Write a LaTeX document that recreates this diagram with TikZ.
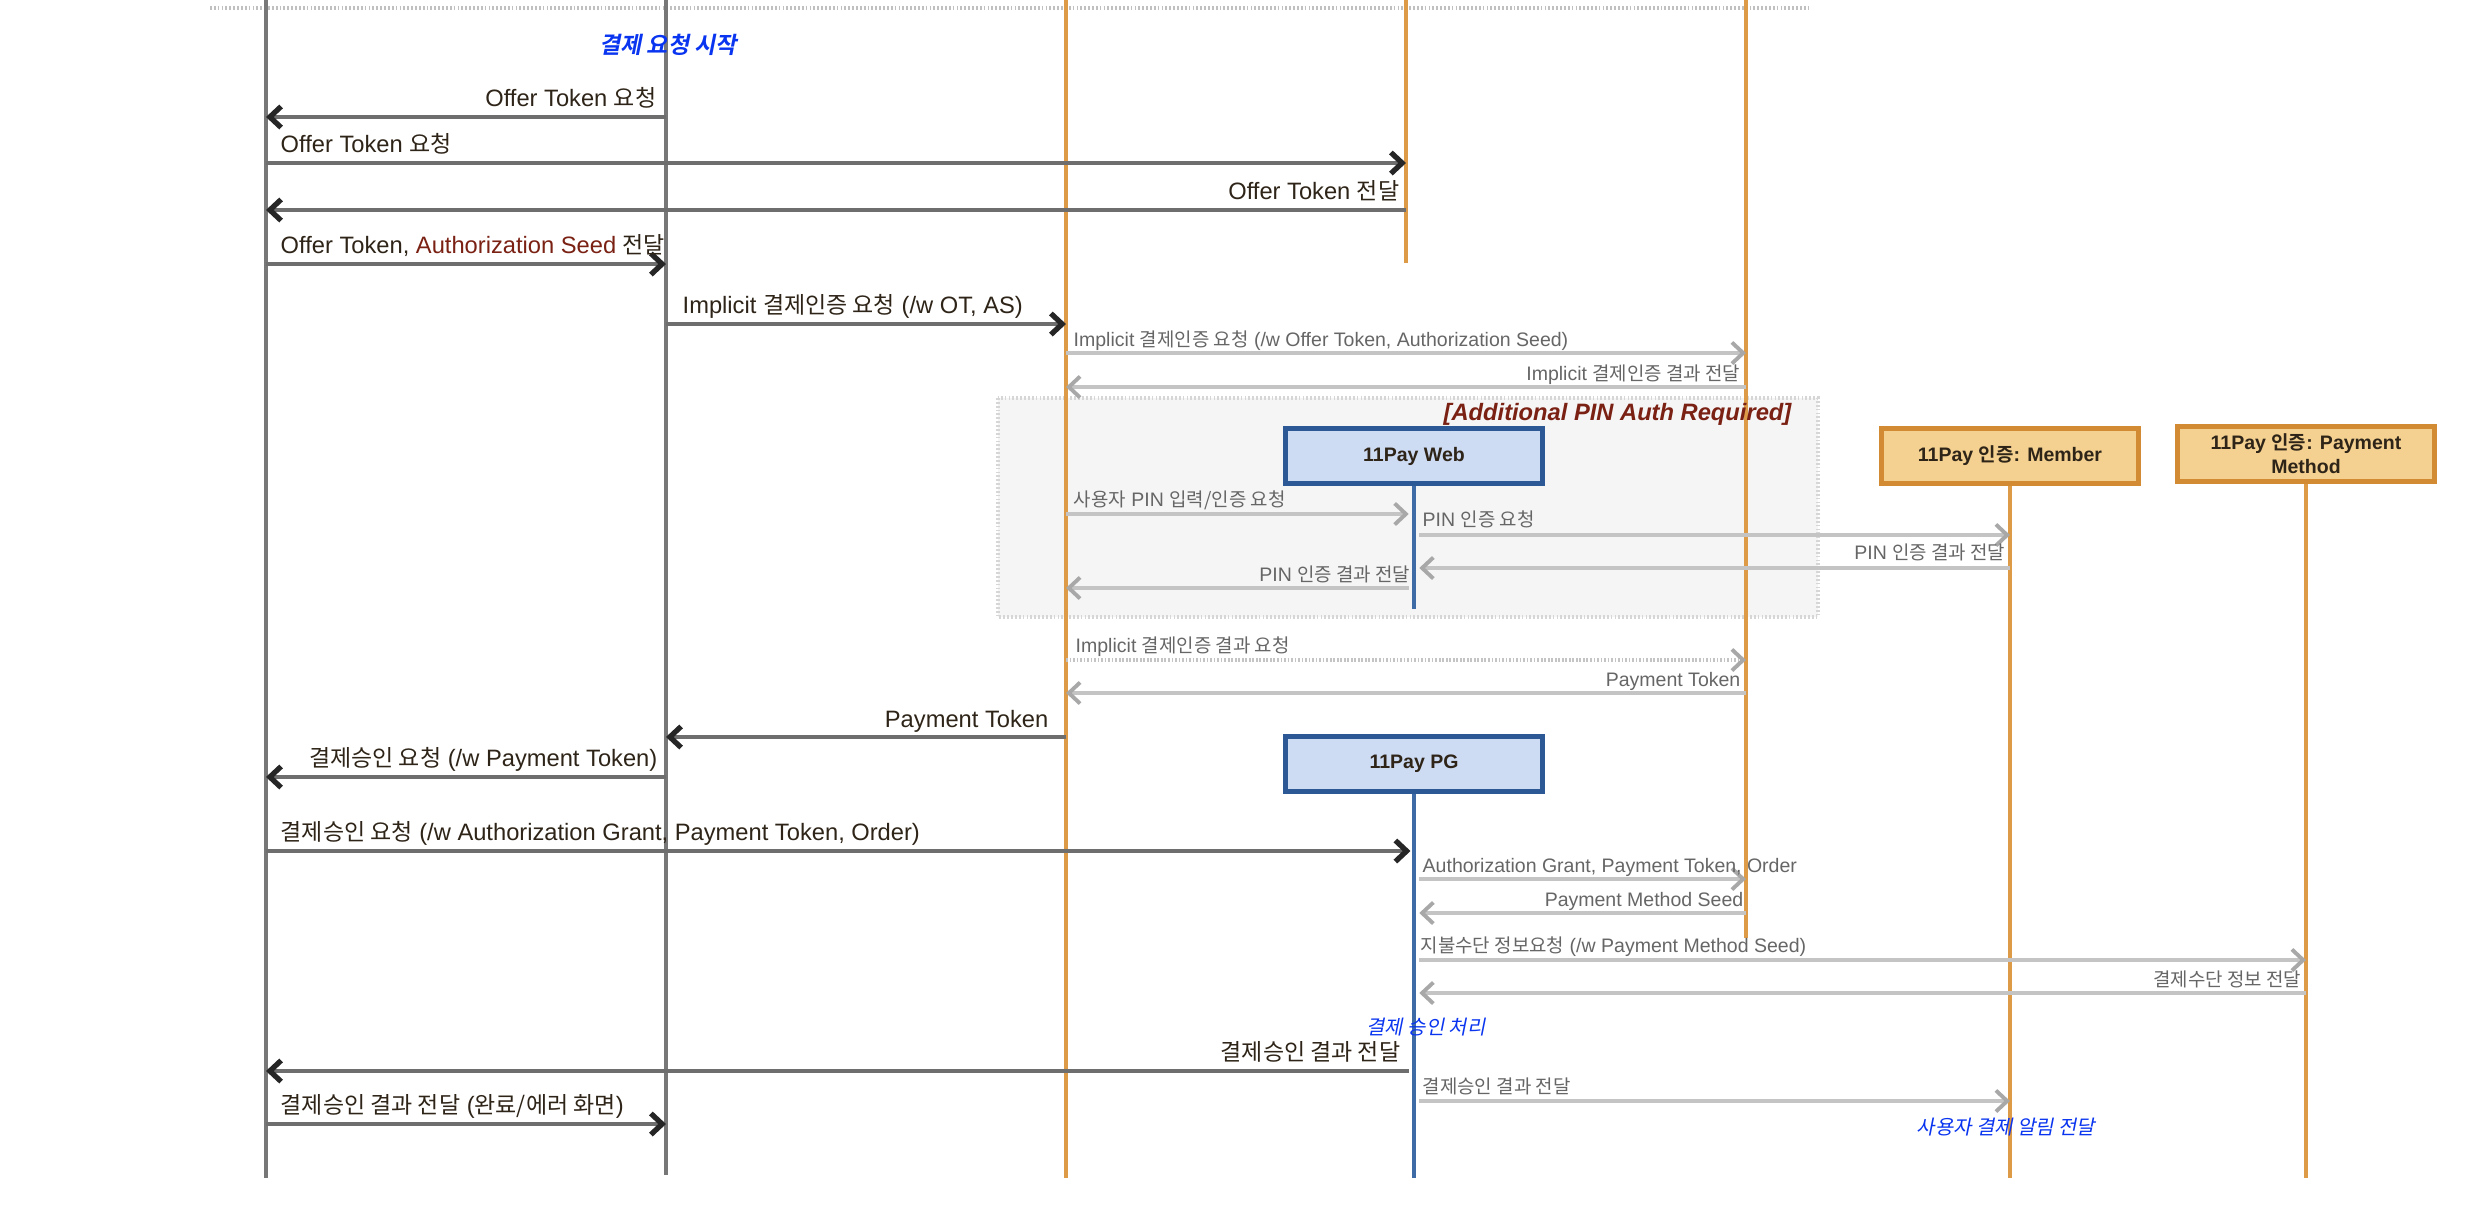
\documentclass[tikz,border=0pt]{standalone}
\usepackage{fontspec}
\usetikzlibrary{arrows.meta}
\setmainfont{Liberation Sans}
\newfontfamily\krfont{Noto Sans CJK KR}[Scale=0.97, BoldFont={Noto Sans CJK KR Bold}, ItalicFont={Noto Sans CJK KR}, ItalicFeatures={FakeSlant=0.2}, BoldItalicFont={Noto Sans CJK KR Bold}, BoldItalicFeatures={FakeSlant=0.2}]
\newcommand\hk[1]{{\krfont #1}}
\definecolor{txt}{HTML}{2E2418}
\definecolor{gtxt}{HTML}{666666}
\definecolor{dline}{HTML}{6E6E6E}
\definecolor{gline}{HTML}{C4C4C4}
\definecolor{ghead}{HTML}{A8A8A8}
\definecolor{orl}{HTML}{DE9B47}
\definecolor{bluel}{HTML}{3E6AA6}
\definecolor{bfill}{HTML}{CDDBF3}
\definecolor{bdraw}{HTML}{2C5896}
\definecolor{ofill}{HTML}{F4D190}
\definecolor{odraw}{HTML}{D28A33}
\definecolor{dred}{HTML}{7A2114}
\definecolor{blu}{HTML}{0A35F0}
\definecolor{frfill}{HTML}{F5F5F5}
\definecolor{frdraw}{HTML}{D6D6D6}
\definecolor{topln}{HTML}{C0C0C0}
\definecolor{gll}{HTML}{777777}
\tikzset{
  lbl/.style={font=\fontsize{6.74pt}{8pt}\selectfont, text=txt, inner sep=0pt},
  glbl/.style={font=\fontsize{5.55pt}{6.6pt}\selectfont, text=gtxt, inner sep=0pt},
  note/.style={font=\itshape\fontsize{5.83pt}{7pt}\selectfont, text=blu, inner sep=0pt},
  darr/.style={draw=dline, line width=1.25pt, -{Straight Barb[length=3.2pt,width=6pt,line width=1.5pt,color=black!85]}},
  garr/.style={draw=gline, line width=1.1pt, -{Straight Barb[length=3.2pt,width=6pt,line width=1.1pt,color=ghead]}},
  gdot/.style={garr, dash pattern=on 0.5pt off 0.5pt},
  graylife/.style={draw=gll, line width=1.15pt},
  orlife/.style={draw=orl, line width=1pt},
  bllife/.style={draw=bluel, line width=0.9pt},
  bluebox/.style={draw=bdraw, fill=bfill, line width=1.4pt, minimum width=73pt, minimum height=15.8pt, inner sep=0pt, font=\bfseries\fontsize{5.55pt}{6.8pt}\selectfont, text=txt, align=center},
  orbox/.style={bluebox, draw=odraw, fill=ofill},
}
\begin{document}
\begin{tikzpicture}[x=0.01cm, y=-0.01cm]
\useasboundingbox (0,0) rectangle (2480,1208);
\fill[white] (0,0) rectangle (2480,1208);
% frame
\draw[fill=frfill, draw=frdraw, line width=1pt, dash pattern=on 0.5pt off 0.6pt] (998,398) rectangle (1818,617);
% top dotted line
\coordinate (tl) at (210,8); \coordinate (tr) at (1810,8);
\draw[draw=topln, line width=0.9pt, dash pattern=on 0.5pt off 0.6pt] (tl) -- (tr);
% lifeline coordinates
\coordinate (A) at (266,0); \coordinate (Ab) at (266,1178);
\coordinate (B) at (666,0); \coordinate (Bb) at (666,1175);
\coordinate (C) at (1066,0); \coordinate (Cb) at (1066,1178);
\coordinate (D) at (1406,0); \coordinate (Db) at (1406,263);
\coordinate (E) at (1746,0); \coordinate (Eb) at (1746,938);
\draw[graylife] (A) -- (Ab);
\draw[graylife] (B) -- (Bb);
\draw[orlife] (C) -- (Cb);
\draw[orlife] (D) -- (Db);
\draw[orlife] (E) -- (Eb);
% boxes
\node[bluebox] (web) at (1414,456) {11Pay Web};
\node[bluebox] (pg) at (1414,764) {11Pay PG};
\node[orbox] (mem) at (2010,456) {11Pay \hk{인증}: Member};
\node[orbox] (pm) at (2306,454) {11Pay \hk{인증}: Payment\\Method};
\coordinate (webb) at (1414,609);
\coordinate (pgb) at (1414,1178);
\coordinate (memb) at (2010,1178);
\coordinate (pmb) at (2306,1178);
\draw[bllife] (web.south) -- (webb);
\draw[bllife] (pg.south) -- (pgb);
\draw[orlife] (mem.south) -- (memb);
\draw[orlife] (pm.south) -- (pmb);
% frame label
\node[lbl, anchor=base east, font=\bfseries\itshape\fontsize{6.74pt}{8pt}\selectfont, text=dred] (frl) at (1792,420) {[Additional PIN Auth Required]};
% notes
\node[note, font=\bfseries\itshape\fontsize{6.74pt}{8pt}\selectfont] (n1) at (668,45) {\hk{결제 요청 시작}};
\node[note] (n2) at (1426,1027) {\hk{결제 승인 처리}};
\node[note] (n3) at (2006,1127) {\hk{사용자 결제 알림 전달}};
% messages
\draw[darr] (B |- 0,117) -- (A |- 0,117);
\node[lbl, anchor=base east] (t1) at (657,106) {Offer Token \hk{요청}};
\draw[darr] (A |- 0,163) -- (D |- 0,163);
\node[lbl, anchor=base west] (t2) at (280,152) {Offer Token \hk{요청}};
\draw[darr] (D |- 0,210) -- (A |- 0,210);
\node[lbl, anchor=base east] (t3) at (1400,199) {Offer Token \hk{전달}};
\draw[darr] (A |- 0,264) -- (B |- 0,264);
\node[lbl, anchor=base west] (t4) at (280,253) {Offer Token, \textcolor{dred}{Authorization Seed} \hk{전달}};
\draw[darr] (B |- 0,324) -- (C |- 0,324);
\node[lbl, anchor=base west] (t5) at (682,313) {Implicit \hk{결제인증 요청} (/w OT, AS)};
\draw[garr] (C |- 0,353) -- (E |- 0,353);
\node[glbl, anchor=base west] (t6) at (1073,346) {Implicit \hk{결제인증 요청} (/w Offer Token, Authorization Seed)};
\draw[garr] (E |- 0,387) -- (C |- 0,387);
\node[glbl, anchor=base east] (t7) at (1741,380) {Implicit \hk{결제인증 결과 전달}};
\draw[garr, shorten >=1.5pt] (C |- 0,514) -- (web.south |- 0,514);
\node[glbl, anchor=base west] (t8) at (1073,506) {\hk{사용자} PIN \hk{입력/인증 요청}};
\draw[garr, shorten <=1.5pt] (web.south |- 0,535) -- (mem.south |- 0,535);
\node[glbl, anchor=base west] (t9) at (1422,526) {PIN \hk{인증 요청}};
\draw[garr, shorten >=1.5pt] (mem.south |- 0,568) -- (web.south |- 0,568);
\node[glbl, anchor=base east] (t10) at (2006,559) {PIN \hk{인증 결과 전달}};
\draw[garr, shorten <=1.5pt] (web.south |- 0,588) -- (C |- 0,588);
\node[glbl, anchor=base east] (t11) at (1411,581) {PIN \hk{인증 결과 전달}};
\draw[gdot] (C |- 0,660) -- (E |- 0,660);
\node[glbl, anchor=base west] (t12) at (1075,652) {Implicit \hk{결제인증 결과 요청}};
\draw[garr] (E |- 0,693) -- (C |- 0,693);
\node[glbl, anchor=base east] (t13) at (1741,686) {Payment Token};
\draw[darr] (C |- 0,737) -- (B |- 0,737);
\node[lbl, anchor=base east] (t14) at (1049,727) {Payment Token};
\draw[darr] (B |- 0,777) -- (A |- 0,777);
\node[lbl, anchor=base east] (t15) at (658,766) {\hk{결제승인 요청} (/w Payment Token)};
\draw[darr, shorten >=1pt] (A |- 0,851) -- (pg.south |- 0,851);
\node[lbl, anchor=base west] (t16) at (280,840) {\hk{결제승인 요청} (/w Authorization Grant, Payment Token, Order)};
\draw[garr, shorten <=1.5pt] (pg.south |- 0,879) -- (E |- 0,879);
\node[glbl, anchor=base west] (t17) at (1422,872) {Authorization Grant, Payment Token, Order};
\draw[garr, shorten >=1.5pt] (E |- 0,913) -- (pg.south |- 0,913);
\node[glbl, anchor=base east] (t18) at (1744,906) {Payment Method Seed};
\draw[garr, shorten <=1.5pt] (pg.south |- 0,960) -- (pm.south |- 0,960);
\node[glbl, anchor=base west] (t19) at (1420,952) {\hk{지불수단 정보요청} (/w Payment Method Seed)};
\draw[garr, shorten >=1.5pt] (pm.south |- 0,993) -- (pg.south |- 0,993);
\node[glbl, anchor=base east] (t20) at (2302,986) {\hk{결제수단 정보 전달}};
\draw[darr, shorten <=1.5pt] (pg.south |- 0,1071) -- (A |- 0,1071);
\node[lbl, anchor=base east] (t21) at (1401,1060) {\hk{결제승인 결과 전달}};
\draw[garr, shorten <=1.5pt] (pg.south |- 0,1101) -- (mem.south |- 0,1101);
\node[glbl, anchor=base west] (t22) at (1422,1093) {\hk{결제승인 결과 전달}};
\draw[darr] (A |- 0,1124) -- (B |- 0,1124);
\node[lbl, anchor=base west] (t23) at (280,1113) {\hk{결제승인 결과 전달} (\hk{완료/에러 화면})};
\end{tikzpicture}
\end{document}
